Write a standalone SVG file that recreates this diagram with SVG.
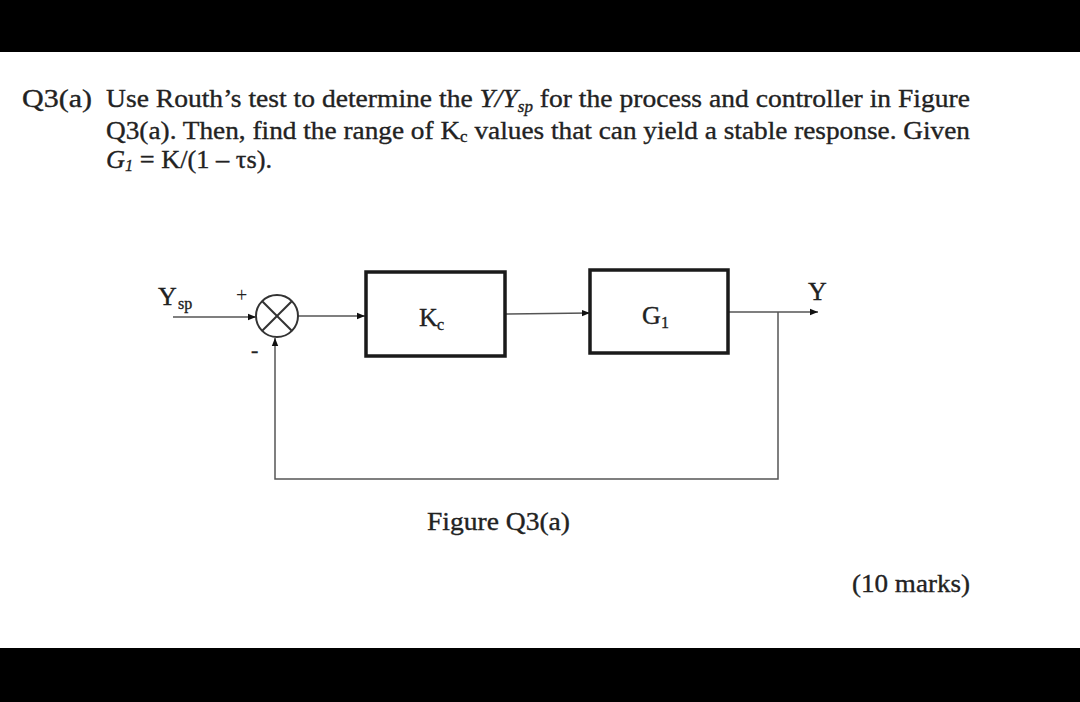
<svg xmlns="http://www.w3.org/2000/svg" width="1080" height="702" viewBox="0 0 1080 702">
<style>
text{font-family:"Liberation Serif","Times New Roman",serif;fill:#222;stroke:#222;stroke-width:0.35}
.q{font-size:26px}
.blk{fill:#fff;stroke:#1a1a1a;stroke-width:3.5}
.ln{fill:none;stroke:#555;stroke-width:1.5}
.lbl{font-size:26px}
.sub{font-size:16px}
</style>
<defs>
<marker id="ah" viewBox="0 0 10 10" refX="10" refY="5" markerWidth="8" markerHeight="8" markerUnits="userSpaceOnUse" orient="auto">
<path d="M0,1 L10,5 L0,9 z" fill="#111"/>
</marker>
</defs>
<rect x="0" y="0" width="1080" height="702" fill="#fff"/>
<rect x="0" y="0" width="1080" height="52" fill="#000"/>
<rect x="0" y="648" width="1080" height="54" fill="#000"/>
<g id="question">
<text class="q" x="22" y="107" textLength="70" lengthAdjust="spacingAndGlyphs">Q3(a)</text>
<text class="q" x="106" y="107" textLength="864" lengthAdjust="spacingAndGlyphs">Use Routh’s test to determine the <tspan font-style="italic">Y/Y</tspan><tspan font-style="italic" font-size="16" dy="5">sp</tspan><tspan dy="-5"> for the process and controller in Figure</tspan></text>
<text class="q" x="106" y="139" textLength="864" lengthAdjust="spacingAndGlyphs">Q3(a). Then, find the range of K<tspan font-size="16" dy="3">c</tspan><tspan dy="-3"> values that can yield a stable response. Given</tspan></text>
<text class="q" x="106" y="168" textLength="166" lengthAdjust="spacingAndGlyphs"><tspan font-style="italic">G</tspan><tspan font-style="italic" font-size="16" dy="3">1</tspan><tspan dy="-3"> = K/(1 – τs).</tspan></text>
</g>
<g id="connectors">
<line class="ln" x1="173" y1="317" x2="256" y2="317" marker-end="url(#ah)"/>
<line class="ln" x1="298" y1="316" x2="365" y2="316" marker-end="url(#ah)"/>
<line class="ln" x1="505" y1="314" x2="590" y2="313" marker-end="url(#ah)"/>
<line class="ln" x1="728" y1="312" x2="818" y2="312" marker-end="url(#ah)"/>
<polyline class="ln" points="778,312 778,479 275,479 275,338" marker-end="url(#ah)"/>
</g>
<g id="sum">
<circle cx="277" cy="316" r="21" fill="#fff" stroke="#333" stroke-width="2"/>
<line x1="262.2" y1="301.2" x2="291.8" y2="330.8" stroke="#333" stroke-width="2"/>
<line x1="291.8" y1="301.2" x2="262.2" y2="330.8" stroke="#333" stroke-width="2"/>
<text x="236" y="302" font-size="20" style="stroke-width:0">+</text>
<text x="251" y="357" font-size="22">-</text>
</g>
<g id="ysp">
<text class="lbl" x="158" y="305">Y</text>
<text class="sub" x="178" y="309">sp</text>
</g>
<g id="kc">
<rect class="blk" x="366" y="272" width="139" height="84"/>
<text class="lbl" x="419" y="326">K</text>
<text class="sub" x="437" y="330">c</text>
</g>
<g id="g1">
<rect class="blk" x="590" y="270" width="138" height="83"/>
<text class="lbl" x="642" y="324">G</text>
<text class="sub" x="661" y="328">1</text>
</g>
<g id="y">
<text class="lbl" x="808" y="300">Y</text>
</g>
<text x="427" y="530" font-size="26" textLength="143" lengthAdjust="spacingAndGlyphs">Figure Q3(a)</text>
<text x="852" y="592" font-size="26" textLength="118" lengthAdjust="spacingAndGlyphs">(10 marks)</text>
</svg>
